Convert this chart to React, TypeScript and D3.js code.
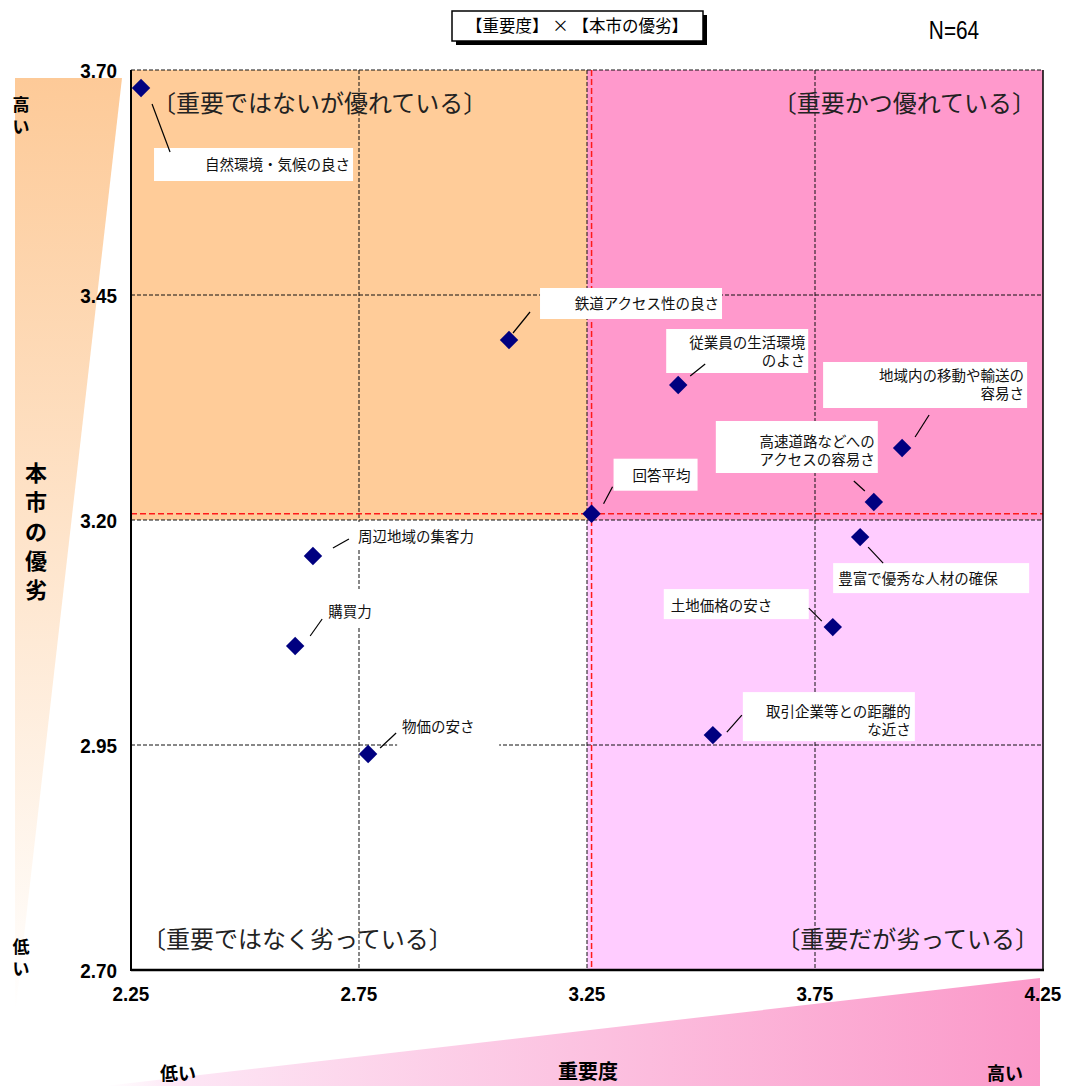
import { useEffect, useRef } from 'react'
import * as d3 from 'd3'

// 項目（重要度 × 本市の優劣）
const itemNames = [
  '自然環境・気候の良さ',
  '鉄道アクセス性の良さ',
  '従業員の生活環境\nのよさ',
  '地域内の移動や輸送の\n容易さ',
  '高速道路などへの\nアクセスの容易さ',
  '回答平均',
  '豊富で優秀な人材の確保',
  '周辺地域の集客力',
  '購買力',
  '土地価格の安さ',
  '取引企業等との距離的\nな近さ',
  '物価の安さ',
]
const importance = [2.272, 3.079, 3.45, 3.941, 3.879, 3.26, 3.849, 2.649, 2.61, 3.789, 3.526, 2.77]
const superiority = [3.68, 3.40, 3.35, 3.28, 3.22, 3.207, 3.181, 3.16, 3.06, 3.081, 2.961, 2.94]

const avgImportance = 3.26
const avgSuperiority = 3.207
const xTicks = [2.25, 2.75, 3.25, 3.75, 4.25]
const yTicks = [2.70, 2.95, 3.20, 3.45, 3.70]
const xSplit = 3.25
const ySplit = 3.20

// label box layout relative to each marker: box offset/size, text anchor, leader line
const labelLayout = [
  { bx: 13, by: 60, bw: 199, bh: 33, align: 'end', tx: 209, ty: 82, l: [11, 16, 29, 64] },
  { bx: 31, by: -52, bw: 182, bh: 31, align: 'end', tx: 210, ty: -31, l: [4, -7, 21, -28] },
  { bx: -12, by: -56, bw: 142, bh: 44, align: 'end', tx: 127, ty: -37, l: [12, -9, 27, -21] },
  { bx: -79, by: -86, bw: 204, bh: 46, align: 'end', tx: 122, ty: -67, l: [13, -11, 27, -33] },
  { bx: -158, by: -81, bw: 162, bh: 52, align: 'end', tx: 1, ty: -55, l: [-9, -11, -20, -21] },
  { bx: 22, by: -55, bw: 84, bh: 32, align: 'start', tx: 41, ty: -33, l: [12, -10, 21, -27] },
  { bx: -27, by: 26, bw: 196, bh: 30, align: 'start', tx: -22, ty: 47, l: [8, 10, 23, 26] },
  { bx: 41, by: -34, bw: 136, bh: 27, align: 'start', tx: 45, ty: -14, l: [20, -8, 36, -17] },
  { bx: 27, by: -57, bw: 80, bh: 38, align: 'start', tx: 33, ty: -29, l: [15, -10, 27, -27] },
  { bx: -169, by: -38, bw: 145, bh: 30, align: 'start', tx: -162, ty: -16, l: [-11, -6, -24, -19] },
  { bx: 30, by: -43, bw: 172, bh: 49, align: 'end', tx: 198, ty: -18, l: [14, -3, 29, -20] },
  { bx: 29, by: -41, bw: 102, bh: 37, align: 'start', tx: 34, ty: -22, l: [12, -6, 28, -21] },
]

const quadrantLabels = ['〔重要ではないが優れている〕', '〔重要かつ優れている〕', '〔重要ではなく劣っている〕', '〔重要だが劣っている〕']

const JP = '"Noto Sans CJK JP", "Noto Sans", sans-serif'
const NUM = '"Liberation Sans", Arial, sans-serif'

export default function App() {
  const svgRef = useRef<SVGSVGElement>(null)

  useEffect(() => {
    if (!svgRef.current) return
    const svg = d3.select(svgRef.current)
    svg.selectAll('*').remove()

    const W = 1065
    const H = 1086
    const plot = { left: 131, right: 1043, top: 70, bottom: 970 }

    svg.attr('width', W).attr('height', H)

    const xScale = d3.scaleLinear().domain([2.25, 4.25]).range([plot.left, plot.right])
    const yScale = d3.scaleLinear().domain([2.70, 3.70]).range([plot.bottom, plot.top])

    const defs = svg.append('defs')
    const gl = defs.append('linearGradient').attr('id', 'leftGrad')
      .attr('x1', 0).attr('y1', 0).attr('x2', 0).attr('y2', 1)
    gl.append('stop').attr('offset', 0).attr('stop-color', '#fdca98')
    gl.append('stop').attr('offset', 1).attr('stop-color', '#ffffff')
    const gb = defs.append('linearGradient').attr('id', 'bottomGrad')
      .attr('x1', 0).attr('y1', 0).attr('x2', 1).attr('y2', 0)
    gb.append('stop').attr('offset', 0).attr('stop-color', '#ffffff')
    gb.append('stop').attr('offset', 0.08).attr('stop-color', '#fde6f5')
    gb.append('stop').attr('offset', 1).attr('stop-color', '#fb99c9')

    // wedges (low -> high)
    svg.append('polygon')
      .attr('points', '15,78 122,78 15,1015')
      .attr('fill', 'url(#leftGrad)')
    svg.append('polygon')
      .attr('points', '105,1086 1040,978 1040,1086')
      .attr('fill', 'url(#bottomGrad)')

    // quadrant fills
    const g = svg.append('g')
    g.append('rect')
      .attr('x', xScale(2.25)).attr('y', yScale(3.70))
      .attr('width', xScale(xSplit) - xScale(2.25)).attr('height', yScale(ySplit) - yScale(3.70))
      .attr('fill', '#ffcc99')
    g.append('rect')
      .attr('x', xScale(xSplit)).attr('y', yScale(3.70))
      .attr('width', xScale(4.25) - xScale(xSplit)).attr('height', yScale(ySplit) - yScale(3.70))
      .attr('fill', '#ff99cc')
    g.append('rect')
      .attr('x', xScale(xSplit)).attr('y', yScale(ySplit))
      .attr('width', xScale(4.25) - xScale(xSplit)).attr('height', yScale(2.70) - yScale(ySplit))
      .attr('fill', '#ffccff')

    // grid
    xTicks.slice(1, -1).forEach(t => {
      g.append('line')
        .attr('x1', xScale(t)).attr('x2', xScale(t))
        .attr('y1', plot.top).attr('y2', plot.bottom)
        .attr('stroke', '#111').attr('stroke-width', 1).attr('stroke-dasharray', '4,2')
    })
    yTicks.slice(1).forEach(t => {
      g.append('line')
        .attr('x1', plot.left).attr('x2', plot.right)
        .attr('y1', yScale(t)).attr('y2', yScale(t))
        .attr('stroke', '#111').attr('stroke-width', 1).attr('stroke-dasharray', '4,2')
    })

    // average lines
    g.append('line')
      .attr('x1', xScale(avgImportance)).attr('x2', xScale(avgImportance))
      .attr('y1', plot.top).attr('y2', plot.bottom)
      .attr('stroke', '#ff1a1a').attr('stroke-width', 1.5).attr('stroke-dasharray', '6,3')
    g.append('line')
      .attr('x1', plot.left).attr('x2', plot.right)
      .attr('y1', yScale(avgSuperiority)).attr('y2', yScale(avgSuperiority))
      .attr('stroke', '#ff1a1a').attr('stroke-width', 1.5).attr('stroke-dasharray', '6,3')

    // plot border
    g.append('line').attr('x1', plot.left).attr('x2', plot.left).attr('y1', plot.top).attr('y2', plot.bottom + 1)
      .attr('stroke', '#000').attr('stroke-width', 2)
    g.append('line').attr('x1', plot.left).attr('x2', plot.right + 1).attr('y1', plot.bottom).attr('y2', plot.bottom)
      .attr('stroke', '#000').attr('stroke-width', 2.5)
    g.append('line').attr('x1', plot.right).attr('x2', plot.right).attr('y1', plot.top).attr('y2', plot.bottom)
      .attr('stroke', '#000').attr('stroke-width', 1.5)

    // quadrant labels
    const qStyle = (t: d3.Selection<SVGTextElement, unknown, null, undefined>) =>
      t.style('font-family', JP).style('font-size', '24px').style('font-weight', 400).style('fill', '#222')
    qStyle(g.append('text').attr('x', 152).attr('y', 112).text(quadrantLabels[0]))
    qStyle(g.append('text').attr('x', 1036).attr('y', 112).attr('text-anchor', 'end').text(quadrantLabels[1]))
    qStyle(g.append('text').attr('x', 142).attr('y', 948).text(quadrantLabels[2]))
    qStyle(g.append('text').attr('x', 1039).attr('y', 948).attr('text-anchor', 'end').text(quadrantLabels[3]))

    // data labels
    const pts = itemNames.map((name, i) => ({
      name, x: xScale(importance[i]), y: yScale(superiority[i]), lay: labelLayout[i],
    }))

    pts.forEach(p => {
      const L = p.lay
      g.append('rect')
        .attr('x', p.x + L.bx).attr('y', p.y + L.by)
        .attr('width', L.bw).attr('height', L.bh)
        .attr('fill', '#fff')
      const lines = p.name.split('\n')
      const txt = g.append('text')
        .attr('x', p.x + L.tx).attr('y', p.y + L.ty)
        .attr('text-anchor', L.align)
        .style('font-family', JP).style('font-size', '14.5px').style('fill', '#111')
      lines.forEach((ln, k) => {
        txt.append('tspan').attr('x', p.x + L.tx).attr('dy', k === 0 ? 0 : 18).text(ln)
      })
      g.append('line')
        .attr('x1', p.x + L.l[0]).attr('y1', p.y + L.l[1])
        .attr('x2', p.x + L.l[2]).attr('y2', p.y + L.l[3])
        .attr('stroke', '#000').attr('stroke-width', 1.2)
    })

    // markers
    g.selectAll('.dot')
      .data(pts)
      .enter().append('path')
      .attr('class', 'dot')
      .attr('d', d3.symbol().type(d3.symbolSquare).size(170)())
      .attr('transform', d => `translate(${d.x},${d.y}) rotate(45)`)
      .attr('fill', '#000080')

    // axis tick labels (narrow bold digits)
    yTicks.forEach(t => {
      svg.append('text')
        .attr('transform', `translate(117,${yScale(t) + 8}) scale(0.9,1)`)
        .attr('text-anchor', 'end')
        .style('font-family', NUM).style('font-size', '21px').style('font-weight', 'bold')
        .text(t.toFixed(2))
    })
    xTicks.forEach(t => {
      svg.append('text')
        .attr('transform', `translate(${xScale(t)},1001) scale(0.9,1)`)
        .attr('text-anchor', 'middle')
        .style('font-family', NUM).style('font-size', '21px').style('font-weight', 'bold')
        .text(t.toFixed(2))
    })

    // axis titles
    const bold = (t: d3.Selection<SVGTextElement, unknown, null, undefined>, size: number) =>
      t.style('font-family', JP).style('font-size', `${size}px`).style('font-weight', 'bold').style('fill', '#000')
    const vertical = (chars: string, x: number, y0: number, step: number, size: number) => {
      chars.split('').forEach((c, i) => {
        bold(svg.append('text').attr('x', x).attr('y', y0 + i * step).attr('text-anchor', 'middle').text(c), size)
      })
    }
    vertical('高い', 21, 111, 22, 17)
    vertical('本市の優劣', 36, 481, 29.3, 22)
    vertical('低い', 21, 953, 22, 17)
    bold(svg.append('text').attr('x', 178).attr('y', 1080).attr('text-anchor', 'middle').text('低い'), 18)
    bold(svg.append('text').attr('x', 588).attr('y', 1079).attr('text-anchor', 'middle').text('重要度'), 20)
    bold(svg.append('text').attr('x', 1005).attr('y', 1080).attr('text-anchor', 'middle').text('高い'), 18)

    // title box with shadow
    svg.append('rect').attr('x', 456).attr('y', 15).attr('width', 251).attr('height', 30).attr('fill', '#000')
    svg.append('rect').attr('x', 452).attr('y', 11).attr('width', 251).attr('height', 30)
      .attr('fill', '#fff').attr('stroke', '#000').attr('stroke-width', 1.5)
    svg.append('text')
      .attr('x', 577).attr('y', 32).attr('text-anchor', 'middle')
      .style('font-family', JP).style('font-size', '16.5px').style('fill', '#000')
      .text('【重要度】 × 【本市の優劣】')

    svg.append('text')
      .attr('transform', 'translate(954,39) scale(0.8,1)')
      .attr('text-anchor', 'middle')
      .style('font-family', NUM).style('font-size', '26px')
      .text('N=64')
  }, [])

  return (
    <div style={{ position: 'absolute', left: 0, top: 0 }}>
      <svg ref={svgRef} style={{ display: 'block' }}></svg>
    </div>
  )
}
